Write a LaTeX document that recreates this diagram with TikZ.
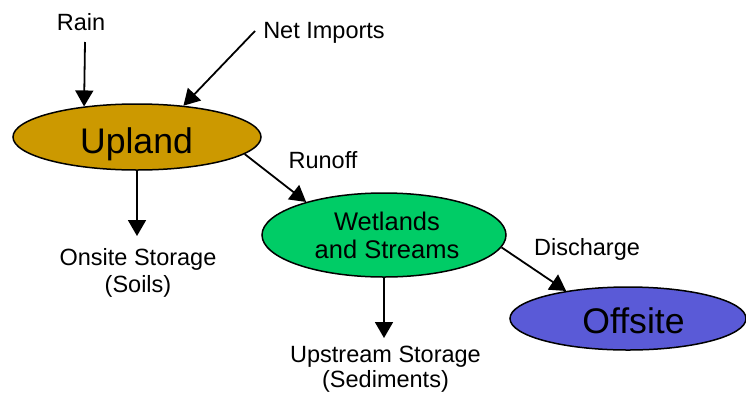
\documentclass[tikz,border=0pt]{standalone}
\usepackage{fontspec}
\setmainfont{Liberation Sans}
\usetikzlibrary{shapes.geometric,arrows.meta}
\definecolor{uplandc}{RGB}{204,153,0}
\definecolor{wetc}{RGB}{0,204,102}
\definecolor{offc}{RGB}{90,90,215}
\begin{document}
\begin{tikzpicture}[x=1pt,y=-1pt,
  blob/.style={ellipse,draw=black,line width=1.5pt,inner sep=0pt},
  lbl/.style={anchor=base,inner sep=0pt,font=\fontsize{23.5}{27}\selectfont,align=center},
  big/.style={anchor=base,inner sep=0pt,font=\fontsize{35.6}{40}\selectfont},
  flow/.style={line width=1.8pt,-{Triangle[length=16pt,width=18pt]}}]
\useasboundingbox (0,0) rectangle (746,394);
% ellipses
\node[blob,fill=uplandc,minimum width=248pt,minimum height=66pt] (up) at (137,137) {};
\node[blob,fill=wetc,minimum width=244pt,minimum height=84pt] (wet) at (384,235) {};
\node[blob,fill=offc,minimum width=236pt,minimum height=63pt] (off) at (628,318.5) {};
% ellipse texts
\node[big] (uptxt) at (136.5,153.5) {Upland};
\node[big] (offtxt) at (633.5,333.5) {Offsite};
\node[inner sep=0pt,anchor=base,font=\fontsize{25.5}{28}\selectfont] (wettxt1) at (387,230) {Wetlands};
\node[inner sep=0pt,anchor=base,font=\fontsize{25.5}{28}\selectfont] (wettxt2) at (387,258) {and Streams};
% labels
\node[lbl] (rain) at (81,30) {Rain};
\node[lbl] (imp) at (324,38.5) {Net Imports};
\node[lbl] (runoff) at (323,168.5) {Runoff};
\node[lbl] (disch) at (587,255) {Discharge};
\node[lbl] (onsite1) at (138,265) {Onsite Storage};
\node[lbl] (onsite2) at (138,292) {(Soils)};
\node[lbl] (ups1) at (385.5,362) {Upstream Storage};
\node[lbl] (ups2) at (385.5,387) {(Sediments)};
% free ends
\coordinate (rainS) at (85,42);
\coordinate (impS) at (255,31);
\coordinate (onsT) at (137,236);
\coordinate (upsT) at (384,338);
% connectors
\draw[flow] (rainS) -- (up.150);
\draw[flow] (impS) -- (up.34);
\draw[flow] (up.-9.7) -- (wet.157.7);
\draw[flow] (up.south) -- (onsT);
\draw[flow] (wet.south) -- (upsT);
\draw[flow] (wet.-6.3) -- (off.156.7);
\end{tikzpicture}
\end{document}
